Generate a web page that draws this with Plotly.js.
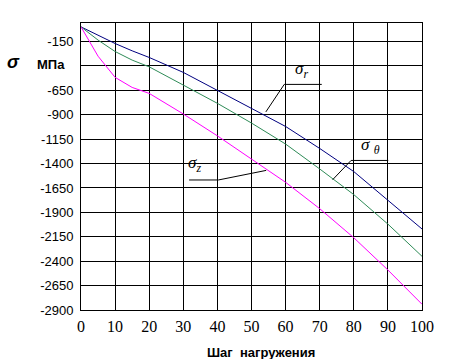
<!DOCTYPE html>
<html>
<head>
<meta charset="utf-8">
<script src="https://cdn.plot.ly/plotly-3.0.1.min.js"></script>
<style>html,body{margin:0;padding:0;background:#fff;}#chart{width:453px;height:359px;}</style>
</head>
<body>
<div id="chart"></div>
<script>
// load steps
const steps = [0, 5, 10, 15, 20, 30, 40, 50, 60, 70, 80, 90, 100];
// stresses, MPa
const sigmaR     = [0, -85, -170, -245, -313, -466, -647, -835, -1020, -1245, -1482, -1775, -2070];
const sigmaTheta = [0, -135, -252, -340, -409, -600, -783, -985, -1200, -1455, -1718, -2020, -2350];
const sigmaZ     = [0, -300, -517, -620, -681, -892, -1116, -1350, -1592, -1862, -2160, -2490, -2841];

const xTicks = [0, 10, 20, 30, 40, 50, 60, 70, 80, 90, 100];
const yTicks = [-150, -400, -650, -900, -1150, -1400, -1650, -1900, -2150, -2400, -2650, -2900];
const yTickText = ['-150', '', '-650', '-900', '-1150', '-1400', '-1650', '-1900', '-2150', '-2400', '-2650', '-2900'];

const traces = [
  {x: steps, y: sigmaR, mode: 'lines', line: {color: '#000080', width: 1}, name: 'σr'},
  {x: steps, y: sigmaTheta, mode: 'lines', line: {color: '#2e8b57', width: 1}, name: 'σθ'},
  {x: steps, y: sigmaZ, mode: 'lines', line: {color: '#ff00ff', width: 1}, name: 'σz'}
];

const serif = '"Times New Roman", "Liberation Serif", serif';
const sans = 'Arial, "Liberation Sans", sans-serif';
const lbl = {family: serif, size: 17, color: '#000'};
const leader = {color: '#000', width: 1};

function note(px, py, text, font) {
  return {xref: 'paper', yref: 'paper', x: (px - 81) / 341, y: (310 - py) / 287,
          xanchor: 'center', yanchor: 'middle', text: text, showarrow: false, font: font};
}

const layout = {
  width: 453, height: 359,
  margin: {l: 81, r: 31, t: 23, b: 49},
  paper_bgcolor: '#fff', plot_bgcolor: '#fff',
  showlegend: false,
  xaxis: {
    range: [0, 100], tickvals: xTicks, ticktext: xTicks.map(String),
    showgrid: true, gridcolor: '#000', gridwidth: 1,
    showline: true, linecolor: '#000', linewidth: 1, mirror: true,
    zeroline: false, ticks: '',
    tickfont: {family: serif, size: 16, color: '#000'},
    ticklabelstandoff: 2
  },
  yaxis: {
    range: [-2900, 40], tickvals: yTicks, ticktext: yTickText,
    showgrid: true, gridcolor: '#000', gridwidth: 1,
    showline: true, linecolor: '#000', linewidth: 1, mirror: true,
    zeroline: false, ticks: '',
    tickfont: {family: sans, size: 13, color: '#000'},
    ticklabelstandoff: 4
  },
  shapes: [
    {type: 'path', xref: 'x', yref: 'y', path: 'M54.2,-871 L59.6,-589 L70.6,-589', line: leader},
    {type: 'path', xref: 'x', yref: 'y', path: 'M73.8,-1565 L79.2,-1368 L90.1,-1368', line: leader},
    {type: 'path', xref: 'x', yref: 'y', path: 'M31.7,-1568 L40.3,-1568 L54.3,-1470', line: leader}
  ],
  annotations: [
    note(301, 70, '<i>σ<sub>r</sub></i>', lbl),
    note(370, 146, '<i>σ <sub>θ</sub></i>', lbl),
    note(194, 164, '<i>σ<sub>z</sub></i>', lbl),
    note(13, 62, '<b><i>σ</i></b>', {family: sans, size: 18, color: '#000'}),
    note(51, 64, '<b>МПа</b>', {family: sans, size: 13, color: '#000'}),
    note(261, 352, '<b>Шаг  нагружения</b>', {family: sans, size: 13, color: '#000'})
  ]
};

Plotly.newPlot('chart', traces, layout, {displayModeBar: false, staticPlot: true});
</script>
</body>
</html>
